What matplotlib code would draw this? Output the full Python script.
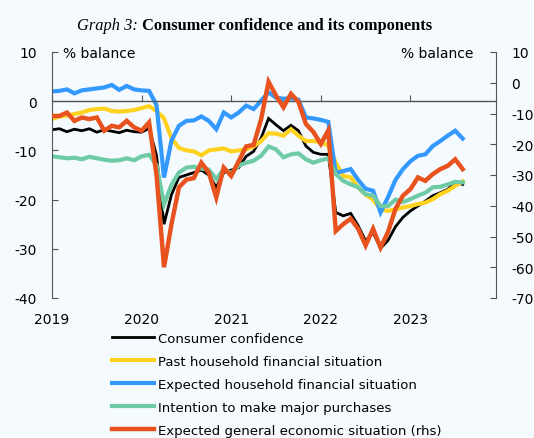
import numpy as np
import pandas as pd
import matplotlib
matplotlib.use("Agg")
import matplotlib.pyplot as plt

# ---------- data (monthly, Jan 2019 - Aug 2023, % balance) ----------
months = pd.date_range("2019-01-01", "2023-08-01", freq="MS")

consumer_conf = [
    -5.8, -5.6, -6.2, -5.7, -6.0, -5.6, -6.3, -5.8, -6.1, -6.4, -5.9, -6.2,
    -6.3, -5.5, -11.0, -25.0, -19.0, -15.5, -15.0, -14.5, -14.0, -15.0, -17.5, -14.5,
    -14.0, -13.5, -11.2, -10.2, -7.5, -3.5, -4.8, -6.0, -4.9, -6.0, -9.1, -10.4,
    -10.8, -10.8, -22.6, -23.3, -22.8, -25.3, -28.4, -26.7, -29.9, -28.3, -25.5, -23.6,
    -22.3, -21.3, -20.3, -19.2, -18.6, -17.9, -16.5, -16.9,
]
past_fin = [
    -3.6, -3.1, -2.9, -2.6, -2.3, -1.8, -1.6, -1.5, -2.0, -2.1, -2.0, -1.8,
    -1.4, -1.0, -2.0, -3.5, -7.5, -9.5, -10.0, -10.2, -11.0, -10.0, -9.8, -9.6,
    -10.2, -10.0, -9.8, -9.2, -8.1, -6.5, -6.6, -7.0, -5.7, -7.0, -8.1, -8.1,
    -8.3, -9.0, -12.5, -15.2, -15.5, -17.5, -19.0, -20.0, -22.0, -22.3, -22.0, -21.6,
    -21.3, -20.9, -20.6, -19.9, -18.9, -18.2, -17.2, -16.3,
]
expected_fin = [
    2.0, 2.1, 2.4, 1.6, 2.2, 2.4, 2.6, 2.8, 3.3, 2.3, 3.1, 2.4,
    2.2, 2.1, -0.8, -15.5, -8.0, -5.0, -4.0, -3.9, -3.1, -4.0, -5.7, -2.3,
    -3.3, -2.3, -0.9, -1.6, 0.1, 1.8, 0.7, 0.5, 0.6, 0.3, -3.3, -3.5,
    -3.8, -4.2, -14.6, -14.2, -13.8, -16.0, -17.8, -18.2, -22.6, -19.5, -16.0, -13.8,
    -12.2, -11.1, -10.8, -9.1, -8.1, -7.0, -6.0, -7.6,
]
major_purch = [
    -11.2, -11.4, -11.6, -11.5, -11.8, -11.3, -11.6, -11.9, -12.1, -12.0, -11.6, -12.0,
    -11.2, -10.9, -13.0, -21.0, -17.0, -14.5, -13.5, -13.3, -13.7, -13.9, -15.8, -13.8,
    -14.6, -13.1, -12.5, -12.1, -11.1, -9.2, -9.8, -11.4, -10.8, -10.6, -11.8, -12.5,
    -12.0, -11.6, -14.8, -16.2, -16.9, -17.5, -18.9, -19.2, -21.3, -21.3, -20.0, -20.5,
    -19.9, -19.2, -18.6, -17.5, -17.4, -16.9, -16.4, -16.5,
]
general_econ = [  # rhs
    -10.8, -10.8, -9.7, -12.4, -11.3, -11.8, -11.3, -15.6, -14.0, -14.5, -12.4, -14.5,
    -15.6, -12.9, -30.0, -60.0, -46.0, -34.0, -31.5, -31.0, -26.0, -29.2, -37.3, -27.6,
    -30.3, -25.5, -20.7, -20.2, -11.9, 0.3, -4.2, -8.0, -3.6, -6.2, -13.4, -16.0,
    -19.9, -15.5, -48.2, -46.0, -44.2, -47.5, -52.9, -47.5, -53.6, -48.5, -41.0, -36.7,
    -34.6, -30.8, -31.9, -29.7, -28.1, -27.0, -24.9, -28.1,
]

years = [2019, 2020, 2021, 2022, 2023]
left_ticks = [-40, -30, -20, -10, 0, 10]
right_ticks = [-70, -60, -50, -40, -30, -20, -10, 0, 10]

labels = [
    "Consumer confidence",
    "Past household financial situation",
    "Expected household financial situation",
    "Intention to make major purchases",
    "Expected general economic situation (rhs)",
]
colors = ["#000000", "#FFD21F", "#3399FF", "#6FCBA6", "#E8521E"]

# ---------- plot ----------
plt.rcParams["font.family"] = ["DejaVu Sans"]
plt.rcParams["axes.unicode_minus"] = False

bg = "#F5FAFE"
spine_col = "#555555"

fig = plt.figure(figsize=(5.34, 4.39), dpi=100, facecolor=bg)
ax = fig.add_axes([52 / 534, 1 - 299 / 439, 444 / 534, 246 / 439])
ax.set_facecolor("none")
ax2 = ax.twinx()
ax2.set_facecolor("none")

x = months.year + (months.month - 1) / 12.0

lines = []
for vals, lab, col, lw in zip(
        [consumer_conf, past_fin, expected_fin, major_purch],
        labels[:4], colors[:4], [2.0, 3.0, 3.0, 3.0]):
    ln, = ax.plot(x, vals, color=col, lw=lw, label=lab, solid_joinstyle="miter")
    lines.append(ln)
ln, = ax2.plot(x, general_econ, color=colors[4], lw=3.2, label=labels[4],
               solid_joinstyle="miter")
lines.append(ln)

ax.set_xlim(2019, 2023.955)
ax.set_ylim(-40, 10)
ax2.set_ylim(-70, 10)

# spines
for s in ["top", "right"]:
    ax.spines[s].set_visible(False)
for s in ["top", "bottom", "left"]:
    ax2.spines[s].set_visible(False)
ax.spines["left"].set_color(spine_col)
ax2.spines["right"].set_color(spine_col)
ax.spines["bottom"].set_position(("data", 0))
ax.spines["bottom"].set_color(spine_col)
ax.spines["bottom"].set_linewidth(1.0)

ax.set_yticks(left_ticks)
ax2.set_yticks(right_ticks)
ax.tick_params(axis="y", direction="in", length=4, color=spine_col,
               labelsize=10, pad=11)
ax2.tick_params(axis="y", direction="in", length=4, color=spine_col,
                labelsize=10, pad=11)

ax.set_xticks(years)
ax.tick_params(axis="x", direction="in", length=4, color=spine_col,
               labelbottom=False)

# year labels at the bottom of the plot
secx = ax.secondary_xaxis(0.0)
secx.set_xticks(years)
secx.set_xticklabels([str(y) for y in years])
secx.spines["bottom"].set_visible(False)
secx.tick_params(axis="x", length=0, labelsize=10, pad=10)

ax.text(0.025, 0.995, "% balance", transform=ax.transAxes, fontsize=10,
        ha="left", va="center")
ax.text(0.948, 0.995, "% balance", transform=ax.transAxes, fontsize=10,
        ha="right", va="center")

# title: italic label + bold text
t1 = fig.text(77 / 534, 1 - 26 / 439, "Graph 3:", family="Liberation Serif",
              style="italic", fontsize=11.8, ha="left", va="center")
ax.annotate(" Consumer confidence and its components", xy=(1, 0), xycoords=t1,
            ha="left", va="bottom", family="Liberation Serif",
            fontweight="bold", fontsize=11.8, annotation_clip=False)

fig.legend(lines, labels, loc="upper left", bbox_to_anchor=(112 / 534, 1 - 333 / 439),
           frameon=False, fontsize=9.5, handlelength=3.2, handletextpad=0.3,
           labelspacing=0.75, borderpad=0, borderaxespad=0)

fig.savefig("out.png", dpi=100, facecolor=bg)
